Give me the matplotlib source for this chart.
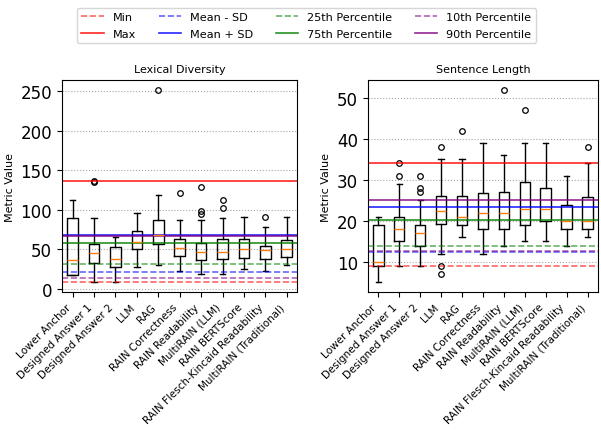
import matplotlib
matplotlib.use("Agg")
import matplotlib.pyplot as plt

categories = ["Lower Anchor", "Designed Answer 1", "Designed Answer 2", "LLM", "RAG",
              "RAIN Correctness", "RAIN Readability", "MultiRAIN (LLM)", "RAIN BERTScore",
              "RAIN Flesch-Kincaid Readability", "MultiRAIN (Traditional)"]

# Lexical Diversity box stats
lex_whislo = [17, 8, 9, 28, 30, 22, 19, 19, 25.5, 22, 30]
lex_q1 = [18, 33, 28, 50.7, 57, 42, 36, 38, 39.3, 37.6, 40.6]
lex_med = [36, 45, 38, 59.8, 67.8, 51, 47, 46.4, 50.6, 48.5, 49.8]
lex_q3 = [90, 57, 53, 73.3, 87.4, 62.5, 58.2, 62.7, 62.7, 54.4, 61.5]
lex_whishi = [112, 90, 66, 95.8, 119, 86.6, 86.6, 89, 90.8, 78.6, 90.8]
lex_fliers = [[], [135, 136], [], [], [252], [121], [128.5, 98, 95], [112.5, 102.4], [], [90.4], []]

# Sentence Length box stats
sen_whislo = [5, 9, 9, 12, 16, 12, 14, 15, 15, 14, 16]
sen_q1 = [9, 15, 14, 19.2, 19, 18, 18, 19, 20, 18, 18]
sen_med = [10, 18, 17, 22.5, 21, 22, 22, 23, 23, 20, 20]
sen_q3 = [19, 21, 19, 26, 26, 26.8, 27, 29.5, 28, 24, 25.8]
sen_whishi = [21, 29, 25, 35, 35, 39, 36, 39, 39, 31, 34]
sen_fliers = [[], [34, 31], [31, 28, 27], [38, 9, 7], [42], [], [52], [47], [], [], [38]]

# reference lines: min, max, mean-sd, mean+sd, p25, p75, p10, p90
ref_labels = ["Min", "Max", "Mean - SD", "Mean + SD", "25th Percentile", "75th Percentile",
              "10th Percentile", "90th Percentile"]
ref_colors = ["red", "red", "blue", "blue", "green", "green", "purple", "purple"]
ref_styles = ["--", "-", "--", "-", "--", "-", "--", "-"]
lex_ref = [8.2, 136, 21.3, 67.8, 31.3, 57.4, 14.2, 66.5]
sen_ref = [9.0, 34.0, 12.4, 23.4, 14.0, 20.2, 12.7, 25.0]


def make_stats(wlo, q1, med, q3, whi, fl):
    stats = []
    for i in range(len(med)):
        stats.append(dict(whislo=wlo[i], q1=q1[i], med=med[i], q3=q3[i],
                          whishi=whi[i], fliers=fl[i]))
    return stats


fig = plt.figure(figsize=(6.01, 4.31), dpi=100)
ax1 = fig.add_axes([0.103, 0.320, 0.392, 0.492])
ax2 = fig.add_axes([0.612, 0.320, 0.383, 0.492])

panels = [
    (ax1, "Lexical Diversity",
     make_stats(lex_whislo, lex_q1, lex_med, lex_q3, lex_whishi, lex_fliers), lex_ref),
    (ax2, "Sentence Length",
     make_stats(sen_whislo, sen_q1, sen_med, sen_q3, sen_whishi, sen_fliers), sen_ref),
]

handles = []
for ax, title, stats, refs in panels:
    ax.bxp(stats, showfliers=True,
           flierprops=dict(marker="o", markersize=4, markerfacecolor="none", markeredgewidth=0.9),
           boxprops=dict(linewidth=1.0), whiskerprops=dict(linewidth=1.0),
           capprops=dict(linewidth=1.0), medianprops=dict(color="C1", linewidth=1.0))
    lines = []
    for val, col, ls, lab in zip(refs, ref_colors, ref_styles, ref_labels):
        a = 0.6 if ls == "--" else 0.85
        ln = ax.axhline(val, color=col, linestyle=ls, alpha=a, linewidth=1.2, label=lab)
        lines.append(ln)
    if not handles:
        handles = lines
    ax.set_title(title, fontsize=8)
    ax.set_ylabel("Metric Value", fontsize=8)
    ax.set_xticks(range(1, len(categories) + 1))
    ax.set_xticklabels(categories, rotation=45, ha="right", fontsize=7.5)
    ax.tick_params(axis="y", labelsize=12)
    ax.yaxis.grid(True, linestyle=":", color="gray", alpha=0.7)
    ax.set_axisbelow(True)

fig.legend(handles, ref_labels, loc="upper center", ncol=4, fontsize=8.1,
           labelspacing=0.6, bbox_to_anchor=(0.51, 0.993))

fig.savefig("out.png", dpi=100)
